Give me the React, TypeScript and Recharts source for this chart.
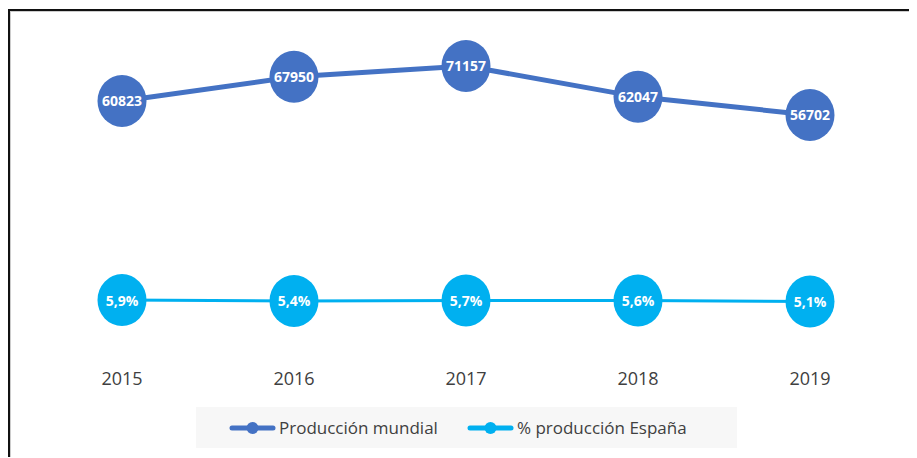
import React from "react";
import { LineChart, Line, XAxis, YAxis, Legend, LabelList } from "recharts";

const years = ["2015", "2016", "2017", "2018", "2019"];
const produccionMundial = [60823, 67950, 71157, 62047, 56702];
const produccionEspana = [5.9, 5.4, 5.7, 5.6, 5.1];

const seriesNames = ["Producción mundial", "% producción España"];
const colors = ["#4472c4", "#00b0f0"];

const data = years.map((year, i) => ({
  year,
  mundial: produccionMundial[i],
  espana: produccionEspana[i],
}));

const font = "'Open Sans', 'Liberation Sans', sans-serif";

const Bubble = (color: string) => (props: any) => {
  const { cx, cy, index } = props;
  if (cx == null || cy == null) return null;
  return <ellipse key={`dot-${index}`} cx={cx} cy={cy} rx={24.5} ry={26} fill={color} />;
};

const makeLabel = (fmt: (v: number) => string) => (props: any) => {
  const { x, y, value, index } = props;
  return (
    <text
      key={`lbl-${index}`}
      x={x}
      y={y}
      textAnchor="middle"
      dominantBaseline="central"
      fill="#ffffff"
      fontFamily={font}
      fontWeight={700}
      fontSize={14}
    >
      {fmt(value)}
    </text>
  );
};

const LegendIcon = ({ color }: { color: string }) => (
  <svg width={47} height={14} style={{ display: "block" }}>
    <line x1={3} y1={7} x2={44} y2={7} stroke={color} strokeWidth={5} strokeLinecap="round" />
    <circle cx={23.5} cy={7} r={6} fill={color} />
  </svg>
);

const LegendBox = () => (
  <div
    style={{
      width: 541,
      height: 41,
      background: "#f7f7f7",
      display: "flex",
      alignItems: "center",
      fontFamily: font,
      fontSize: 17,
      color: "#404040",
    }}
  >
    {seriesNames.map((name, i) => (
      <div
        key={name}
        style={{ display: "flex", alignItems: "center", marginLeft: i === 0 ? 33 : 29 }}
      >
        <LegendIcon color={colors[i]} />
        <span style={{ marginLeft: 3, whiteSpace: "nowrap" }}>{name}</span>
      </div>
    ))}
  </div>
);

export default function App() {
  return (
    <div style={{ position: "relative", width: 909, height: 449, overflow: "hidden" }}>
      <div
        style={{
          position: "absolute",
          left: 0,
          top: 1,
          width: 930,
          height: 470,
          border: "2px solid #111111",
          boxShadow: "inset 0 0 0 1px #cccccc",
          background: "#ffffff",
        }}
      />
      <div style={{ position: "absolute", left: 0, top: 0 }}>
        <LineChart
          width={909}
          height={449}
          data={data}
          margin={{ top: 28, right: 107, bottom: 76, left: 114 }}
        >
          <XAxis
            dataKey="year"
            axisLine={false}
            tickLine={false}
            height={40}
            tickMargin={25}
            tick={{ fill: "#404040", fontSize: 18, fontFamily: font }}
          />
          <YAxis yAxisId="left" hide domain={[-10000, 80000]} />
          <YAxis yAxisId="right" hide orientation="right" domain={[-15.6, 144.4]} />
          <Legend
            layout="horizontal"
            verticalAlign="middle"
            align="center"
            content={() => <LegendBox />}
            wrapperStyle={{ left: 188, top: 399, width: 541, height: 41 }}
          />
          <Line
            yAxisId="left"
            dataKey="mundial"
            name={seriesNames[0]}
            stroke={colors[0]}
            strokeWidth={5}
            dot={Bubble(colors[0])}
            activeDot={false}
            isAnimationActive={false}
          >
            <LabelList dataKey="mundial" content={makeLabel((v) => String(v))} />
          </Line>
          <Line
            yAxisId="right"
            dataKey="espana"
            name={seriesNames[1]}
            stroke={colors[1]}
            strokeWidth={3}
            dot={Bubble(colors[1])}
            activeDot={false}
            isAnimationActive={false}
          >
            <LabelList
              dataKey="espana"
              content={makeLabel((v) => v.toFixed(1).replace(".", ",") + "%")}
            />
          </Line>
        </LineChart>
      </div>
    </div>
  );
}
